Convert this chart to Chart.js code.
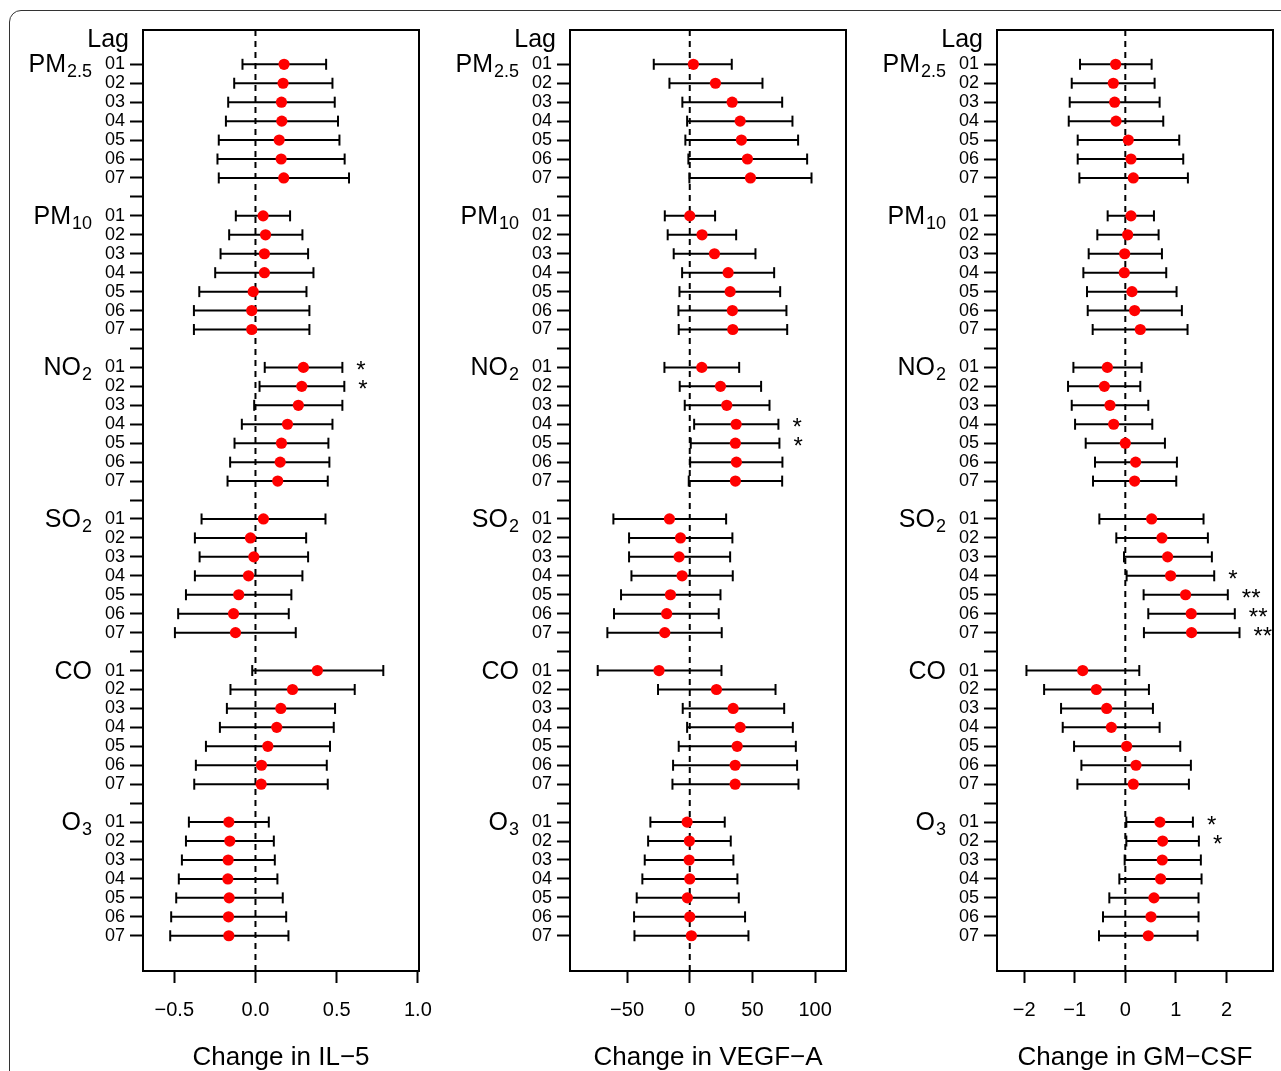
<!DOCTYPE html>
<html>
<head>
<meta charset="utf-8">
<script src="https://cdn.jsdelivr.net/npm/chart.js@4.4.1/dist/chart.umd.min.js"></script>
<style>
  html, body { margin: 0; padding: 0; background: #fff; overflow: hidden; }
  body { width: 1281px; height: 1071px; position: relative; }
  #frame {
    position: absolute; left: 9px; top: 10px; width: 1300px; height: 1100px;
    border: 1.5px solid #333; border-radius: 12px; box-sizing: border-box;
  }
  canvas { position: absolute; top: 0; }
</style>
</head>
<body>
<div id="frame"></div>
<canvas id="il5Chart" width="426" height="1071" style="left:13px"></canvas>
<canvas id="vegfChart" width="426" height="1071" style="left:440px"></canvas>
<canvas id="gmcsfChart" width="426" height="1071" style="left:867px"></canvas>
<script>
// Row labels
const pollutants = [
  { main: 'PM', sub: '2.5' },
  { main: 'PM', sub: '10' },
  { main: 'NO', sub: '2' },
  { main: 'SO', sub: '2' },
  { main: 'CO', sub: '' },
  { main: 'O', sub: '3' },
];
const lags = ['01', '02', '03', '04', '05', '06', '07'];

// IL-5 (rows: PM2.5, PM10, NO2, SO2, CO, O3; lags 01..07)
const il5Est = [
  0.176, 0.170, 0.160, 0.162, 0.146, 0.158, 0.174,
  0.047, 0.062, 0.055, 0.055, -0.014, -0.023, -0.023,
  0.295, 0.285, 0.264, 0.197, 0.160, 0.152, 0.137,
  0.049, -0.031, -0.010, -0.043, -0.103, -0.135, -0.123,
  0.381, 0.228, 0.156, 0.131, 0.076, 0.037, 0.035,
  -0.164, -0.158, -0.168, -0.170, -0.162, -0.166, -0.164,
];
const il5Lo = [
  -0.080, -0.131, -0.168, -0.182, -0.226, -0.234, -0.226,
  -0.121, -0.162, -0.215, -0.248, -0.346, -0.379, -0.379,
  0.057, 0.025, -0.008, -0.084, -0.129, -0.156, -0.172,
  -0.332, -0.373, -0.344, -0.373, -0.428, -0.476, -0.496,
  -0.020, -0.154, -0.176, -0.219, -0.305, -0.367, -0.377,
  -0.410, -0.428, -0.453, -0.472, -0.488, -0.519, -0.525,
];
const il5Hi = [
  0.435, 0.474, 0.488, 0.508, 0.517, 0.549, 0.576,
  0.213, 0.289, 0.324, 0.357, 0.314, 0.332, 0.332,
  0.535, 0.547, 0.535, 0.474, 0.449, 0.455, 0.445,
  0.431, 0.312, 0.324, 0.289, 0.221, 0.205, 0.248,
  0.787, 0.611, 0.490, 0.482, 0.459, 0.439, 0.445,
  0.082, 0.113, 0.119, 0.135, 0.168, 0.189, 0.203,
];
const il5Stars = [
  '', '', '', '', '', '', '',
  '', '', '', '', '', '', '',
  '*', '*', '', '', '', '', '',
  '', '', '', '', '', '', '',
  '', '', '', '', '', '', '',
  '', '', '', '', '', '', '',
];

// VEGF-A
const vegfEst = [
  2.9, 20.5, 33.8, 40.2, 41.2, 46.0, 48.4,
  0.0, 9.8, 19.7, 30.6, 32.2, 34.0, 34.3,
  9.6, 24.5, 29.5, 37.0, 36.4, 37.2, 36.4,
  -16.2, -7.4, -8.5, -6.1, -15.4, -18.4, -19.9,
  -24.5, 21.3, 34.6, 40.2, 37.8, 36.2, 36.2,
  -2.1, -0.3, -0.5, 0.0, -1.9, 0.0, 1.3,
];
const vegfLo = [
  -28.7, -16.2, -5.9, -2.1, -3.5, -1.1, -0.3,
  -19.9, -17.6, -12.8, -6.1, -8.2, -9.0, -8.8,
  -20.2, -8.0, -4.0, 3.5, 0.8, 0.3, -0.8,
  -60.9, -48.4, -48.4, -46.5, -54.8, -60.4, -65.7,
  -73.4, -25.3, -5.6, -2.1, -8.8, -13.3, -13.8,
  -31.4, -33.2, -35.9, -37.8, -42.3, -44.4, -44.1,
];
const vegfHi = [
  33.5, 58.0, 73.7, 81.9, 86.4, 93.6, 97.1,
  20.2, 37.0, 52.4, 67.3, 72.1, 77.1, 77.7,
  39.4, 56.9, 63.6, 70.7, 71.5, 73.9, 73.7,
  29.0, 34.0, 32.2, 34.3, 24.5, 23.1, 25.5,
  25.3, 68.4, 75.3, 82.2, 84.6, 85.6, 86.7,
  27.9, 32.7, 34.8, 38.0, 39.1, 44.1, 46.8,
];
const vegfStars = [
  '', '', '', '', '', '', '',
  '', '', '', '', '', '', '',
  '', '', '', '*', '*', '', '',
  '', '', '', '', '', '', '',
  '', '', '', '', '', '', '',
  '', '', '', '', '', '', '',
];

// GM-CSF
const gmcsfEst = [
  -0.191, -0.237, -0.211, -0.184, 0.059, 0.112, 0.158,
  0.112, 0.046, -0.013, -0.020, 0.132, 0.184, 0.296,
  -0.355, -0.414, -0.303, -0.230, 0.000, 0.204, 0.184,
  0.520, 0.724, 0.836, 0.895, 1.191, 1.303, 1.309,
  -0.842, -0.572, -0.368, -0.276, 0.026, 0.211, 0.158,
  0.684, 0.737, 0.730, 0.697, 0.566, 0.507, 0.454,
];
const gmcsfLo = [
  -0.895, -1.059, -1.099, -1.118, -0.941, -0.941, -0.908,
  -0.349, -0.553, -0.724, -0.829, -0.757, -0.743, -0.645,
  -1.026, -1.132, -1.059, -0.993, -0.783, -0.599, -0.638,
  -0.513, -0.178, -0.026, 0.026, 0.362, 0.454, 0.368,
  -1.954, -1.605, -1.270, -1.237, -1.013, -0.868, -0.947,
  0.020, 0.020, -0.013, -0.118, -0.316, -0.441, -0.520,
];
const gmcsfHi = [
  0.520, 0.579, 0.678, 0.750, 1.066, 1.145, 1.237,
  0.566, 0.658, 0.724, 0.809, 1.013, 1.118, 1.230,
  0.322, 0.296, 0.454, 0.533, 0.783, 1.020, 1.007,
  1.546, 1.632, 1.711, 1.757, 2.026, 2.164, 2.257,
  0.276, 0.467, 0.546, 0.678, 1.086, 1.296, 1.257,
  1.336, 1.454, 1.493, 1.507, 1.447, 1.447, 1.428,
];
const gmcsfStars = [
  '', '', '', '', '', '', '',
  '', '', '', '', '', '', '',
  '', '', '', '', '', '', '',
  '', '', '', '*', '**', '**', '**',
  '', '', '', '', '', '', '',
  '*', '*', '', '', '', '', '',
];

// x axis ticks
const il5Ticks = [-0.5, 0, 0.5, 1.0];
const vegfTicks = [-50, 0, 50, 100];
const gmcsfTicks = [-2, -1, 0, 1, 2];

const FONT = "'Liberation Sans', Arial, Helvetica, sans-serif";
Chart.defaults.font.family = FONT;
Chart.defaults.color = '#000';

const Y_MIN = -1.81;
const Y_MAX = 47.86;

// row index on the y axis: 8 slots per pollutant (7 lags + 1 blank)
function rowOf(i) {
  return Math.floor(i / 7) * 8 + (i % 7);
}
const allRows = [];
for (let r = 0; r <= 46; r++) allRows.push(r);

function minus(s) {
  return String(s).replace('-', '\u2212');
}

// Draws box, pollutant names, "Lag" and significance stars
const forestDecor = {
  id: 'forestDecor',
  afterDraw(chart) {
    const ctx = chart.ctx;
    const area = chart.chartArea;
    const xs = chart.scales.x;
    const ys = chart.scales.y;
    const o = chart.options.plugins.forestDecor;
    ctx.save();
    ctx.strokeStyle = '#000';
    ctx.lineWidth = 2;
    ctx.strokeRect(area.left, area.top, area.right - area.left, area.bottom - area.top);

    ctx.fillStyle = '#000';
    ctx.textBaseline = 'alphabetic';
    ctx.textAlign = 'right';
    ctx.font = '25px ' + FONT;
    ctx.fillText('Lag', area.left - 14, ys.getPixelForValue(0) - 17.6);

    const right = area.left - 51;
    pollutants.forEach((p, g) => {
      const y = ys.getPixelForValue(g * 8) + 8;
      ctx.font = '18px ' + FONT;
      const subW = p.sub ? ctx.measureText(p.sub).width : 0;
      ctx.font = '25px ' + FONT;
      const mainW = ctx.measureText(p.main).width;
      ctx.textAlign = 'left';
      ctx.fillText(p.main, right - subW - mainW - (p.sub ? 1 : 0), y);
      if (p.sub) {
        ctx.font = '18px ' + FONT;
        ctx.fillText(p.sub, right - subW, y + 5);
      }
    });

    ctx.font = '24px ' + FONT;
    ctx.textAlign = 'left';
    o.stars.forEach((s, i) => {
      if (!s) return;
      const x = xs.getPixelForValue(o.hi[i]) + 14;
      const y = ys.getPixelForValue(rowOf(i)) + 11;
      ctx.fillText(s, x, y);
    });
    ctx.restore();
  },
};

function createForestChart(canvasId, est, lo, hi, stars, xMin, xMax, xTicks, title, fmt) {
  const points = est.map((v, i) => ({ x: v, y: rowOf(i) }));
  const caps = [];
  const segments = [];
  lo.forEach((v, i) => {
    const r = rowOf(i);
    caps.push({ x: v, y: r }, { x: hi[i], y: r });
    segments.push({ x: v, y: r }, { x: hi[i], y: r }, { x: null, y: null });
  });

  new Chart(document.getElementById(canvasId), {
    type: 'scatter',
    data: {
      datasets: [
        {
          data: points,
          pointRadius: 5.6,
          pointBackgroundColor: '#ff0000',
          pointBorderWidth: 0,
        },
        {
          data: caps,
          pointStyle: 'line',
          pointRotation: 90,
          pointRadius: 5.5,
          pointBorderWidth: 2,
          pointBorderColor: '#000',
        },
        {
          data: segments,
          showLine: true,
          spanGaps: false,
          borderColor: '#000',
          borderWidth: 2,
          pointRadius: 0,
        },
        {
          data: [{ x: 0, y: Y_MIN }, { x: 0, y: Y_MAX }],
          showLine: true,
          borderColor: '#000',
          borderWidth: 2,
          borderDash: [6, 5],
          pointRadius: 0,
        },
      ],
    },
    options: {
      responsive: false,
      animation: false,
      events: [],
      layout: { padding: { top: 30, right: 20, left: 0, bottom: 0 } },
      plugins: {
        legend: { display: false },
        tooltip: { enabled: false },
        forestDecor: { stars: stars, hi: hi },
      },
      scales: {
        x: {
          type: 'linear',
          min: xMin,
          max: xMax,
          afterBuildTicks: (scale) => { scale.ticks = xTicks.map((v) => ({ value: v })); },
          afterFit: (scale) => {
            scale.height = 100;
            scale.paddingLeft = 0;
            scale.paddingRight = 0;
          },
          border: { display: false },
          grid: {
            drawOnChartArea: false,
            drawTicks: true,
            tickLength: 12,
            tickWidth: 2,
            tickColor: '#000',
          },
          ticks: {
            font: { size: 20 },
            padding: 15,
            maxRotation: 0,
            autoSkip: false,
            callback: (v) => minus(fmt(v)),
          },
          title: {
            display: true,
            text: title,
            font: { size: 26 },
            padding: { top: 0, bottom: -2 },
          },
        },
        y: {
          type: 'linear',
          reverse: true,
          min: Y_MIN,
          max: Y_MAX,
          afterBuildTicks: (scale) => { scale.ticks = allRows.map((v) => ({ value: v })); },
          afterFit: (scale) => { scale.width = 130; },
          border: { display: false },
          grid: {
            drawOnChartArea: false,
            drawTicks: true,
            tickLength: 13,
            tickWidth: 2,
            tickColor: '#000',
          },
          ticks: {
            font: { size: 18 },
            padding: 5,
            autoSkip: false,
            callback: (v) => {
              const l = Math.round(v) % 8;
              return l < 7 ? lags[l] : '';
            },
          },
        },
      },
    },
    plugins: [forestDecor],
  });
}

window.onload = function () {
  createForestChart('il5Chart', il5Est, il5Lo, il5Hi, il5Stars,
    -0.6925, 1.0068, il5Ticks, 'Change in IL\u22125', (v) => v.toFixed(1));
  createForestChart('vegfChart', vegfEst, vegfLo, vegfHi, vegfStars,
    -95.5, 124.6, vegfTicks, 'Change in VEGF\u2212A', (v) => String(v));
  createForestChart('gmcsfChart', gmcsfEst, gmcsfLo, gmcsfHi, gmcsfStars,
    -2.536, 2.919, gmcsfTicks, 'Change in GM\u2212CSF', (v) => String(v));
};
</script>
</body>
</html>
